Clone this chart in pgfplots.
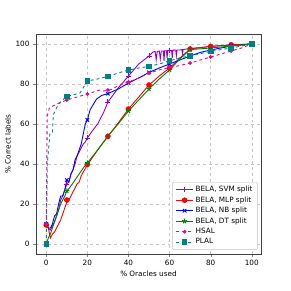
\documentclass[border=0pt]{standalone}
\usepackage{fontspec}
\setmainfont{DejaVu Sans}
\usepackage{pgfplots}
\pgfplotsset{compat=1.18}
\definecolor{svm}{HTML}{9400D3}
\definecolor{plal}{HTML}{008080}
\definecolor{dtgreen}{HTML}{008000}
\begin{document}
\begin{tikzpicture}
\path[use as bounding box] (0,0) rectangle (291bp,291bp);
\begin{axis}[at={(36bp,37bp)}, anchor=south west, scale only axis, width=225bp, height=220bp,
 xmin=-5, xmax=104.5, ymin=-5, ymax=105,
 xtick={0,20,...,100}, ytick={0,20,...,100},
 font=\fontsize{7.3}{8.5}\selectfont,
 /pgf/number format/assume math mode=true,
 tick align=outside, tick pos=left, major tick length=3bp,
 grid=major, grid style={dashed, gray!45, line width=0.4pt},
 axis line style={black!75},
 xlabel={\% Oracles used}, ylabel={\% Correct labels},
 xlabel style={yshift=2bp}, ylabel style={yshift=-2bp},
 legend style={at={(0.985,0.02)}, anchor=south east, font=\fontsize{7.3}{8.5}\selectfont, draw=black!25, rounded corners=1pt, row sep=-0.5pt},
 legend cell align=left,
 every axis plot/.append style={line width=0.9pt},
]
% SVM
\addplot[svm, no marks, forget plot] coordinates {(0,10)(1,8)(2,7)(3,9)(4,11)(5,14)(6,17)(7,22)(8,24)(9,27)(10,30)(11,31)(12,35)(13,37)(14,40)(15,44)(16,46)(17,48)(18,50)(19,51)(20,53)(22,56)(25,60)(28,66)(30,71)(35,78)(40,84)(45,90)(50,94)(52,96)(53,96.3)(53.5,92)(54,96.3)(55,96.5)(55.5,92.5)(56,96.5)(57,96.5)(57.3,91.5)(57.6,96.6)(58.5,96.6)(58.8,93)(59.1,96.7)(60,96.8)(61,96.8)(61.3,93)(61.6,96.9)(63,97)(63.3,94)(63.6,97)(65,97)(66,97.2)(66.3,95)(66.6,97.2)(70,97.8)(75,98.2)(80,98.8)(90,99.5)(100,100)};
\addplot[svm, only marks, mark=+, mark size=2.5bp, forget plot] coordinates {(0,10)(10,30)(20,53)(30,71)(40,84)(50,94)(60,96.8)(70,97.8)(80,98.8)(90,99.5)(100,100)};
% MLP
\addplot[red, no marks, forget plot] coordinates {(0,9.5)(1,8)(2,3)(3,5)(4,6)(5,8)(6,10)(7,12)(8,15)(9,18)(10,21)(11,22)(12,24)(13,26)(14,28)(15,30)(16,31)(17,34)(18,36)(20,39.5)(25,47)(30,53.8)(35,60.5)(40,67.5)(45,73.5)(50,79.5)(55,84)(60,88)(65,93)(70,97.5)(75,98.2)(80,98.8)(90,99.6)(100,100)};
\addplot[red, only marks, mark=*, mark size=2.3bp, forget plot] coordinates {(0,9.5)(10,22)(20,39.8)(30,53.8)(40,67.5)(50,79.5)(60,88)(70,97.5)(80,98.8)(90,99.6)(100,100)};
% NB
\addplot[blue, no marks, forget plot] coordinates {(0,10)(1,8)(2,8)(3,10)(4,14)(5,15)(6,20)(7,24)(8,24)(9,27)(10,32)(11,31)(12,35)(13,37)(14,42)(15,44)(16,47)(17,50)(18,55)(19,60)(20,62)(21.3,67)(23,70)(24.5,72.5)(27,74.3)(30,75.2)(35,77.5)(40,80.5)(45,83)(50,85.8)(55,88)(60,90)(65,92)(70,94)(75,95.8)(80,97)(90,99)(100,100)};
\addplot[blue, only marks, mark=x, mark size=2.5bp, forget plot] coordinates {(0,10)(10,32)(20,62)(30,75.2)(40,80.5)(50,85.8)(60,90)(70,94)(80,97)(90,99)(100,100)};
% DT
\addplot[dtgreen, no marks, forget plot] coordinates {(0,0)(1,3)(2,5)(3,8)(4,11)(5,14)(6,17)(7,20)(8,22)(9,24)(10,26.5)(12,29)(15,33.5)(18,38)(20,40.5)(25,47)(30,54)(35,60)(40,66.5)(45,72)(50,77.5)(55,82.5)(60,87)(65,92.5)(70,97.2)(75,97.6)(80,98)(90,99)(100,100)};
\addplot[dtgreen, only marks, mark=star, mark size=2.5bp, forget plot] coordinates {(0,0)(10,26.5)(20,40.5)(30,54)(40,66.5)(50,77.5)(60,87)(70,97.2)(80,98)(90,99)(100,100)};
% HSAL
\addplot[magenta, dashed, no marks, forget plot] coordinates {(0,10)(0.5,64)(1.5,68)(5,70)(10,72)(15,73.5)(20,75)(26,77)(28,76.5)(31,77)(36,79.6)(40,81)(45,83)(50,85.5)(55,87)(60,88.3)(65,89.2)(70,90.5)(75,92)(80,93.5)(85,95)(90,96.5)(95,98)(100,100)};
\addplot[magenta, only marks, mark=*, mark size=1.4bp, forget plot] coordinates {(0,10)(10,72)(20,75)(30,77)(40,81)(50,85.5)(60,88.3)(70,90.5)(80,93.5)(90,96.5)(100,100)};
% PLAL
\addplot[plal, dashed, no marks, forget plot] coordinates {(0,0)(0.5,40)(1.8,55.6)(3,56)(3.4,64.6)(5.8,69.6)(8,72)(10,73.8)(13,74.5)(16.4,75.5)(20,81.5)(25,82.5)(30,83.8)(35,85.5)(40,87)(45,88)(50,88.8)(55,90)(60,91.6)(65,93)(70,94.1)(75,95.2)(80,96.3)(85,97.2)(90,98)(95,99)(100,100)};
\addplot[plal, only marks, mark=square*, mark size=2.3bp, forget plot] coordinates {(0,0)(10,73.8)(20,81.5)(30,83.8)(40,87)(50,88.8)(60,91.6)(70,94.1)(80,96.3)(90,98)(100,100)};
\addlegendimage{draw=svm, color=svm, line width=0.9pt, mark=+, mark size=2.5bp, mark options={draw=svm}}
\addlegendentry{BELA, SVM split}
\addlegendimage{draw=red, color=red, line width=0.9pt, mark=*, mark size=2.3bp, mark options={draw=red, fill=red}}
\addlegendentry{BELA, MLP split}
\addlegendimage{draw=blue, color=blue, line width=0.9pt, mark=x, mark size=2.5bp, mark options={draw=blue}}
\addlegendentry{BELA, NB split}
\addlegendimage{draw=dtgreen, color=dtgreen, line width=0.9pt, mark=star, mark size=2.5bp, mark options={draw=dtgreen}}
\addlegendentry{BELA, DT split}
\addlegendimage{draw=magenta, color=magenta, dashed, line width=0.9pt, mark=*, mark size=1.4bp, mark options={solid, draw=magenta, fill=magenta}}
\addlegendentry{HSAL}
\addlegendimage{draw=plal, color=plal, dashed, line width=0.9pt, mark=square*, mark size=2.3bp, mark options={solid, draw=plal, fill=plal}}
\addlegendentry{PLAL}
\end{axis}
\end{tikzpicture}
\end{document}
